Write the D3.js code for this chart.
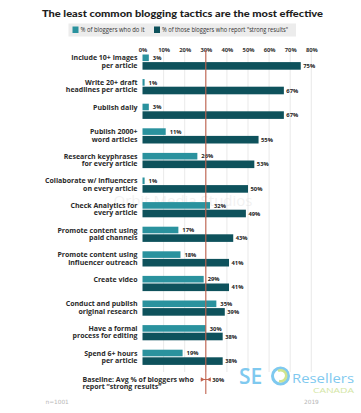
<!DOCTYPE html>
<html><head><meta charset="utf-8">
<script src="https://cdnjs.cloudflare.com/ajax/libs/d3/7.8.5/d3.min.js"></script>
<style>body{margin:0;background:#fff}svg{display:block}</style>
</head><body><svg id="c" width="361" height="413"></svg>
<script>
const categories = [
 ["Include 10+ images","per article"],
 ["Write 20+ draft","headlines per article"],
 ["Publish daily"],
 ["Publish 2000+","word articles"],
 ["Research keyphrases","for every article"],
 ["Collaborate w/ influencers","on every article"],
 ["Check Analytics for","every article"],
 ["Promote content using","paid channels"],
 ["Promote content using","influencer outreach"],
 ["Create video"],
 ["Conduct and publish","original research"],
 ["Have a formal","process for editing"],
 ["Spend 6+ hours","per article"]
];
const doIt = [3,1,3,11,26,1,32,17,18,29,35,30,19];
const strongResults = [75,67,67,55,53,50,49,43,41,41,39,38,38];
const tickValues = [0,10,20,30,40,50,60,70,80];
const baseline = 30;
const seriesNames = ["% of bloggers who do it","% of those bloggers who report \"strong results\""];

const svg = d3.select("#c");
const colLight = "#2a929e", colDark = "#0e525c", red = "#c0634f";
const F = "'Open Sans', sans-serif";

const x = d3.scaleLinear().domain([0,80]).range([142.5,311.3]);
const keys = categories.map((c,i)=>i);
const y = d3.scaleBand().domain(keys).range([54.5, 54.5+13*24.6]);

// title
svg.append("text").attr("x",42).attr("y",17)
 .attr("font-family","Lato, sans-serif").attr("font-weight",900)
 .attr("font-size",10).attr("fill","#1e1e1e")
 .attr("textLength",281).attr("lengthAdjust","spacingAndGlyphs")
 .text("The least common blogging tactics are the most effective");

// legend
svg.append("rect").attr("x",68.5).attr("y",23.5).attr("width",227.5).attr("height",13).attr("fill","#ececec");
const lg = [[72.5,colLight,seriesNames[0],64],[154,colDark,seriesNames[1],126]];
lg.forEach(([lx,c,t,w])=>{
  svg.append("rect").attr("x",lx).attr("y",26.5).attr("width",6).attr("height",6.5).attr("fill",c);
  svg.append("text").attr("x",lx+8).attr("y",32.3).attr("font-family",F).attr("font-size",6.2)
    .attr("fill","#333").attr("textLength",w).attr("lengthAdjust","spacingAndGlyphs").text(t);
});

// watermark
svg.append("text").attr("x",183).attr("y",206).attr("text-anchor","middle")
 .attr("font-family",F).attr("font-size",15).attr("fill","#000").attr("opacity",0.05)
 .text("Orbit Media Studios");

// gridlines
svg.append("g").selectAll("line").data(tickValues.filter(d=>d>0)).join("line")
 .attr("x1",d=>x(d)).attr("x2",d=>x(d)).attr("y1",52).attr("y2",372)
 .attr("stroke","#e3e3e3").attr("stroke-width",0.8);

// axis labels
const ax = d3.axisTop(x).tickValues(tickValues).tickFormat(d=>d+"%").tickSize(0).tickPadding(0);
const axg = svg.append("g").attr("transform","translate(0,51.5)").call(ax);
axg.select(".domain").remove();
axg.selectAll("text").attr("font-family",F).attr("font-weight",700).attr("font-size",5.8).attr("fill","#333");

// bars
const rows = svg.append("g").selectAll("g").data(keys).join("g")
 .attr("transform",d=>`translate(0,${y(d)})`);
rows.append("rect").attr("x",x(0)).attr("y",0).attr("height",6.6)
 .attr("width",d=>x(doIt[d])-x(0)).attr("fill",colLight);
rows.append("rect").attr("x",x(0)).attr("y",7.6).attr("height",7.6)
 .attr("width",d=>x(strongResults[d])-x(0)).attr("fill",colDark);

// baseline red line
svg.append("line").attr("x1",x(baseline)).attr("x2",x(baseline)).attr("y1",50).attr("y2",394)
 .attr("stroke",red).attr("stroke-width",1.1);

// value labels
rows.append("text").attr("x",d=>x(doIt[d])+4).attr("y",5.4)
 .attr("font-family",F).attr("font-weight",700).attr("font-size",5.8).attr("fill","#222")
 .text(d=>doIt[d]+"%");
rows.append("text").attr("x",d=>x(strongResults[d])+2.5).attr("y",13.6)
 .attr("font-family",F).attr("font-weight",700).attr("font-size",5.8).attr("fill","#222")
 .text(d=>strongResults[d]+"%");

// category labels
rows.append("text").attr("text-anchor","end").attr("font-family",F).attr("font-weight",700)
 .attr("font-size",7).attr("fill","#2a2a2a")
 .each(function(d){
   const t = d3.select(this);
   categories[d].forEach((line,j)=>{
     t.append("tspan").attr("x",137.5).attr("y",5.8+j*7.6).text(line);
   });
 });

// baseline label
const bl = svg.append("text").attr("font-family",F).attr("font-weight",700).attr("font-size",7).attr("fill","#2a2a2a");
bl.append("tspan").attr("x",82.5).attr("y",381.5).text("Baseline: Avg % of bloggers who");
bl.append("tspan").attr("x",82.5).attr("y",389.3).text("report \u201cstrong results\u201d");
const bx = x(baseline), by = 379.5;
svg.append("line").attr("x1",bx-5).attr("x2",bx+5).attr("y1",by).attr("y2",by).attr("stroke",red).attr("stroke-width",1);
svg.append("path").attr("d",`M${bx-5},${by-2.3}L${bx-1},${by}L${bx-5},${by+2.3}Z M${bx+5},${by-2.3}L${bx+1},${by}L${bx+5},${by+2.3}Z`).attr("fill",red);
svg.append("text").attr("x",bx+6.5).attr("y",by+2).attr("font-family",F).attr("font-weight",700)
 .attr("font-size",5.8).attr("fill","#222").text(baseline+"%");

// logo
svg.append("text").attr("x",239).attr("y",383.5).attr("font-family","'Open Sans', sans-serif").attr("font-weight",600)
 .attr("font-size",21).attr("fill","#7fc9ef").text("SE");
svg.append("circle").attr("cx",280.5).attr("cy",376).attr("r",8).attr("fill","none").attr("stroke","#7fc9ef").attr("stroke-width",3);
svg.append("path").attr("d","M278,371 A5.5,5.5 0 1 1 279,381").attr("fill","none").attr("stroke","#cfe48e").attr("stroke-width",2.5);
svg.append("text").attr("x",292).attr("y",382.5).attr("font-family","'Open Sans', sans-serif")
 .attr("font-size",12).attr("fill","#7fc9ef").attr("textLength",62).attr("lengthAdjust","spacingAndGlyphs").text("Resellers");
svg.append("text").attr("x",354).attr("y",393).attr("text-anchor","end").attr("font-family","'Open Sans', sans-serif")
 .attr("font-size",7.5).attr("fill","#d3e6a5").attr("textLength",41).attr("lengthAdjust","spacingAndGlyphs").text("CANADA");

// footer
svg.append("text").attr("x",45.5).attr("y",403.5).attr("font-family","'DejaVu Sans', sans-serif")
 .attr("font-size",5.8).attr("fill","#b5b5b5").text("n=1001");
svg.append("text").attr("x",304).attr("y",403.5).attr("font-family","'DejaVu Sans', sans-serif")
 .attr("font-size",5.8).attr("fill","#b5b5b5").text("2019");
</script></body></html>
